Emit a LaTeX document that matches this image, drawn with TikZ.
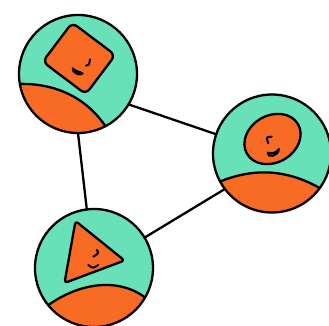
\documentclass[tikz,border=0pt]{standalone}
\usetikzlibrary{shapes.geometric}
\definecolor{hubteal}{HTML}{68E0B8}
\definecolor{hillorange}{HTML}{F76B24}

\begin{document}
\begin{tikzpicture}[x=1pt, y=-1pt, line width=2.3pt, line join=round, line cap=round,
  hub/.style={circle, fill=hubteal, minimum size=118pt, inner sep=0pt, outer sep=0pt},
  hill/.style={fill=hillorange, draw=black},
  face/.style={fill=hillorange, draw=black, inner sep=0pt, outer sep=0pt},
  smile/.style={line width=2pt}]
\useasboundingbox (0, 0) rectangle (329, 326);

\node[hub] (h1) at (78, 74) {};
\node[hub] (h2) at (272, 153.5) {};
\node[hub] (h3) at (94, 268) {};

% Hills
\begin{scope}
\clip (h1.center) circle (59);
\path[hill] (15, 84) .. controls (58, 82) and (88, 100) .. (106, 127) -- (106, 140) -- (15, 140) -- cycle;
\end{scope}
\begin{scope}
\clip (h2.center) circle (59);
\path[hill] (219, 182) .. controls (250, 169) and (285, 167) .. (323, 190) -- (323, 220) -- (219, 220) -- cycle;
\end{scope}
\begin{scope}
\clip (h3.center) circle (59);
\path[hill] (47, 306) .. controls (80, 282) and (120, 277) .. (147, 299) -- (147, 335) -- (47, 335) -- cycle;
\end{scope}

% Outlines
\foreach \n in {h1, h2, h3}
  \draw (\n.center) circle (59);

% Links
\draw (h1.-31) -- (h2.161);
\draw (h1.-90) -- (h3.97);
\draw (h2.217) -- (h3.31);

% Faces
\node[face, rectangle, rounded corners=6pt, minimum width=54pt, minimum height=49pt, rotate=-37] (f1) at (79, 58.4) {};
\node[face, ellipse, minimum width=59pt, minimum height=47pt, rotate=30] (f2) at (272.5, 139) {};
\path[face, rounded corners=3pt] (75.5, 221) -- (124.5, 260.5) -- (64.5, 283) -- cycle;

% Eyes and mouths
\draw[smile] (86, 65.7) .. controls (89, 65.5) .. (90, 59.3);
\draw[smile, fill=hillorange] (72.7, 68.3) .. controls (72, 73) and (80, 76) .. (82.7, 73.5) .. controls (80, 71.5) and (76, 72) .. cycle;

\draw[smile] (271.7, 136.7) .. controls (266, 137) .. (268.3, 143.3);
\draw[smile, fill=hillorange] (267.7, 152.7) .. controls (267, 158) and (278, 157) .. (279, 149) .. controls (276, 153) and (272, 154) .. cycle;

\draw[smile] (96.7, 250) .. controls (99, 253) .. (93.3, 256.7);
\draw[smile] (88.3, 265) .. controls (93, 268.5) .. (98.3, 265);
\end{tikzpicture}
\end{document}
